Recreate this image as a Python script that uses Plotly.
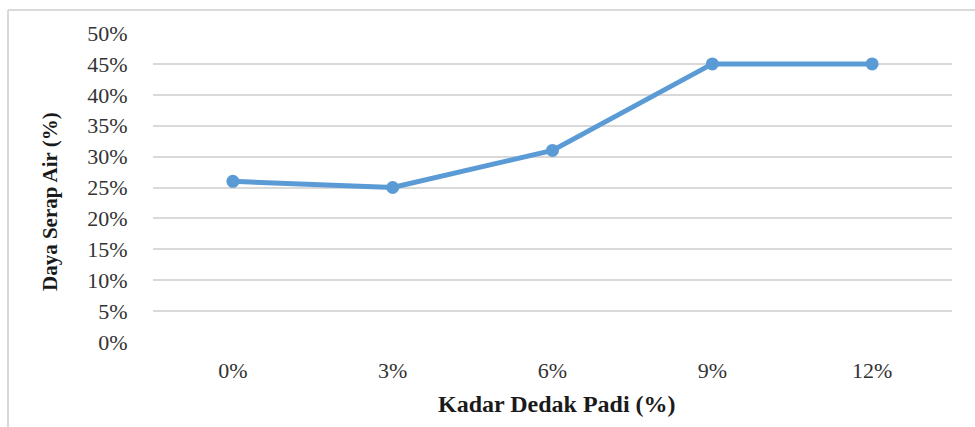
import plotly.graph_objects as go

# Rice-bran content and measured water absorption
kadar = ["0%", "3%", "6%", "9%", "12%"]
daya_serap = [26, 25, 31, 45, 45]
y_ticks = [0, 5, 10, 15, 20, 25, 30, 35, 40, 45, 50]
y_tick_labels = [f"{v}%" for v in y_ticks]

W, H = 975, 427
L, R, T, B = 153, 23, 33, 85
pw, ph = W - L - R, H - T - B

def px_x(x):
    return (x - L) / pw

def px_y(y):
    return (H - B - y) / ph

fig = go.Figure()
fig.add_trace(go.Scatter(
    x=list(range(len(kadar))), y=daya_serap,
    mode="lines+markers",
    line=dict(color="#5B9BD5", width=5),
    marker=dict(color="#5B9BD5", size=13),
    showlegend=False, hoverinfo="skip",
))

font_family = "Liberation Serif, Times New Roman, serif"

fig.update_layout(
    width=W, height=H,
    margin=dict(l=L, r=R, t=T, b=B),
    paper_bgcolor="white", plot_bgcolor="white",
    font=dict(family=font_family, color="#333333"),
    xaxis=dict(
        range=[-0.5, len(kadar) - 0.5],
        tickmode="array", tickvals=list(range(len(kadar))), ticktext=kadar,
        showgrid=False, zeroline=False, showline=False,
        ticks="outside", ticklen=9, tickcolor="rgba(0,0,0,0)",
        tickfont=dict(size=22, family=font_family, color="#333333"),
        fixedrange=True,
    ),
    yaxis=dict(
        range=[0, 50],
        tickmode="array", tickvals=y_ticks, ticktext=y_tick_labels,
        showgrid=True, gridcolor="#d9d9d9", gridwidth=2,
        zeroline=False, showline=False,
        ticks="outside", ticklen=20, tickcolor="rgba(0,0,0,0)",
        tickfont=dict(size=22, family=font_family, color="#333333"),
        fixedrange=True,
    ),
    annotations=[
        dict(text="<b>Kadar Dedak Padi (%)</b>", xref="paper", yref="paper",
             x=px_x(557), y=px_y(404), xanchor="center", yanchor="middle",
             showarrow=False,
             font=dict(size=24, family=font_family, color="#1a1a1a")),
        dict(text="<b>Daya Serap Air (%)</b>", xref="paper", yref="paper",
             x=px_x(50), y=px_y(201), xanchor="center", yanchor="middle",
             textangle=-90, showarrow=False,
             font=dict(size=21, family=font_family, color="#1a1a1a")),
    ],
    shapes=[
        # outer chart frame: top and left edges
        dict(type="line", xref="paper", yref="paper",
             x0=px_x(8), x1=px_x(W), y0=px_y(10), y1=px_y(10),
             line=dict(color="#d9d9d9", width=2)),
        dict(type="line", xref="paper", yref="paper",
             x0=px_x(8), x1=px_x(8), y0=px_y(10), y1=px_y(H),
             line=dict(color="#d9d9d9", width=2)),
    ],
)

fig.write_html("out.html")
